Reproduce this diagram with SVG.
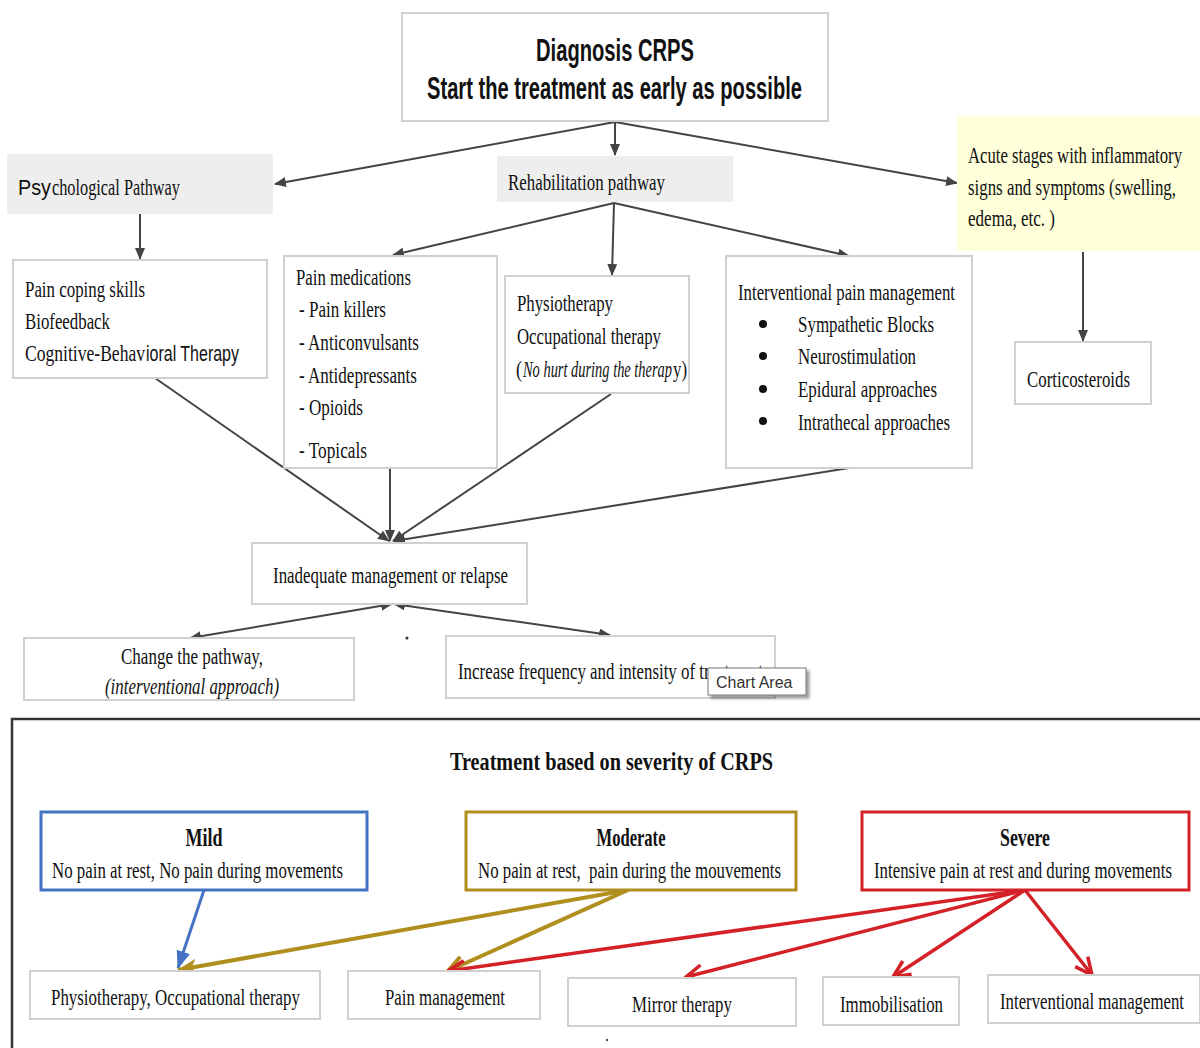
<svg xmlns="http://www.w3.org/2000/svg" width="1200" height="1048" viewBox="0 0 1200 1048">
<defs>
<style>
.bx{fill:#fff;stroke:#d0d0d0;stroke-width:2}
.gr{fill:#eeeeee;stroke:none}
.t{font-family:"Liberation Serif","Times New Roman",serif;font-size:24px;fill:#111}
.ta{font-family:"Liberation Sans",Arial,sans-serif;font-size:22px;fill:#111}
.ts{font-family:"Liberation Sans",Arial,sans-serif;font-weight:bold;font-size:31px;fill:#111}
.tb{font-family:"Liberation Serif","Times New Roman",serif;font-size:25px;font-weight:bold;fill:#111}
.c{fill:none;stroke:#444;stroke-width:2}
.cb{fill:none;stroke:#4472c4;stroke-width:3}
.co{fill:none;stroke:#b08f1e;stroke-width:4}
.cr{fill:none;stroke:#d42027;stroke-width:3.5}
</style>
<marker id="ah" markerUnits="userSpaceOnUse" markerWidth="12" markerHeight="10" refX="11" refY="5" orient="auto"><path d="M0,0 L12,5 L0,10 z" fill="#444"/></marker>
<marker id="ahs" markerUnits="userSpaceOnUse" markerWidth="12" markerHeight="10" refX="11" refY="5" orient="auto-start-reverse"><path d="M0,0 L12,5 L0,10 z" fill="#444"/></marker>
<marker id="ab" markerUnits="userSpaceOnUse" markerWidth="18" markerHeight="14" refX="17" refY="7" orient="auto"><path d="M0,0 L18,7 L0,14 z" fill="#4472c4"/></marker>
<marker id="aof" markerUnits="userSpaceOnUse" markerWidth="20" markerHeight="16" refX="19" refY="8" orient="auto"><path d="M0,0 L20,8 L0,16 L5,8 z" fill="#b08f1e"/></marker>
<marker id="aov" markerUnits="userSpaceOnUse" markerWidth="22" markerHeight="20" refX="19" refY="10" orient="auto"><path d="M2,2 L19,10 L2,18" fill="none" stroke="#b08f1e" stroke-width="4"/></marker>
<marker id="arv" markerUnits="userSpaceOnUse" markerWidth="22" markerHeight="20" refX="19" refY="10" orient="auto"><path d="M2,2 L19,10 L2,18" fill="none" stroke="#d42027" stroke-width="3.5"/></marker>
<filter id="sh" x="-10%" y="-10%" width="130%" height="150%"><feDropShadow dx="3" dy="3" stdDeviation="1.5" flood-color="#000" flood-opacity="0.4"/></filter>
</defs>
<rect width="1200" height="1048" fill="#fff"/>

<g id="connectors">
<line class="c" x1="615" y1="122" x2="275" y2="184" marker-end="url(#ah)"/>
<line class="c" x1="615" y1="122" x2="615" y2="155" marker-end="url(#ah)"/>
<line class="c" x1="615" y1="122" x2="957" y2="183" marker-end="url(#ah)"/>
<line class="c" x1="140" y1="214" x2="140" y2="259" marker-end="url(#ah)"/>
<line class="c" x1="614" y1="203" x2="393" y2="255" marker-end="url(#ah)"/>
<line class="c" x1="614" y1="203" x2="612" y2="275" marker-end="url(#ah)"/>
<line class="c" x1="614" y1="203" x2="849" y2="256" marker-end="url(#ah)"/>
<line class="c" x1="1083" y1="252" x2="1083" y2="341" marker-end="url(#ah)"/>
<line class="c" x1="155" y1="378" x2="389" y2="541" marker-end="url(#ah)"/>
<line class="c" x1="390" y1="468" x2="390" y2="541" marker-end="url(#ah)"/>
<line class="c" x1="611" y1="394" x2="393" y2="541" marker-end="url(#ah)"/>
<line class="c" x1="849" y1="468" x2="394" y2="541" marker-end="url(#ah)"/>
<line class="c" x1="392" y1="604" x2="190" y2="638" marker-start="url(#ahs)" marker-end="url(#ah)"/>
<line class="c" x1="394" y1="604" x2="610" y2="635" marker-start="url(#ahs)" marker-end="url(#ah)"/>
<line class="cb" x1="204" y1="890" x2="178" y2="968" marker-end="url(#ab)"/>
<line class="co" x1="628" y1="890" x2="178" y2="970" marker-end="url(#aof)"/>
<line class="co" x1="628" y1="890" x2="448" y2="971" marker-end="url(#aov)"/>
<line class="cr" x1="1025" y1="890" x2="448" y2="971" marker-end="url(#arv)"/>
<line class="cr" x1="1025" y1="890" x2="686" y2="977" marker-end="url(#arv)"/>
<line class="cr" x1="1025" y1="890" x2="893" y2="977" marker-end="url(#arv)"/>
<line class="cr" x1="1025" y1="890" x2="1092" y2="975" marker-end="url(#arv)"/>
</g>

<g id="n-diagnosis">
<rect class="bx" x="402" y="13" width="426" height="108"/>
<text class="ts" x="615" y="61" text-anchor="middle" textLength="158" lengthAdjust="spacingAndGlyphs">Diagnosis CRPS</text>
<text class="ts" x="427" y="99" textLength="375" lengthAdjust="spacingAndGlyphs">Start the treatment as early as possible</text>
</g>
<g id="n-psych">
<rect class="gr" x="7" y="154" width="266" height="60"/>
<text class="ta" x="18" y="195" textLength="33" lengthAdjust="spacingAndGlyphs">Psy</text>
<text class="t" x="52" y="195" textLength="128" lengthAdjust="spacingAndGlyphs">chological Pathway</text>
</g>
<g id="n-rehab">
<rect class="gr" x="497" y="156" width="236" height="46"/>
<text class="t" x="508" y="190" textLength="157" lengthAdjust="spacingAndGlyphs">Rehabilitation pathway</text>
</g>
<g id="n-acute">
<rect x="957" y="116" width="243" height="135" fill="#ffffd9"/>
<text class="t" x="968" y="163" textLength="214" lengthAdjust="spacingAndGlyphs">Acute stages with inflammatory</text>
<text class="t" x="968" y="195" textLength="208" lengthAdjust="spacingAndGlyphs">signs and symptoms (swelling,</text>
<text class="t" x="968" y="226" textLength="87" lengthAdjust="spacingAndGlyphs">edema, etc. )</text>
</g>
<g id="n-coping">
<rect class="bx" x="13" y="260" width="254" height="118"/>
<text class="t" x="25" y="297" textLength="120" lengthAdjust="spacingAndGlyphs">Pain coping skills</text>
<text class="t" x="25" y="329" textLength="85" lengthAdjust="spacingAndGlyphs">Biofeedback</text>
<text class="t" x="25" y="361" textLength="120" lengthAdjust="spacingAndGlyphs">Cognitive-Behav</text>
<text class="ta" x="146" y="361" textLength="93" lengthAdjust="spacingAndGlyphs">ioral Therapy</text>
</g>
<g id="n-meds">
<rect class="bx" x="284" y="256" width="213" height="212"/>
<text class="t" x="296" y="285" textLength="115" lengthAdjust="spacingAndGlyphs">Pain medications</text>
<text class="t" x="299" y="317" textLength="87" lengthAdjust="spacingAndGlyphs">- Pain killers</text>
<text class="t" x="299" y="350" textLength="120" lengthAdjust="spacingAndGlyphs">- Anticonvulsants</text>
<text class="t" x="299" y="383" textLength="118" lengthAdjust="spacingAndGlyphs">- Antidepressants</text>
<text class="t" x="299" y="415" textLength="64" lengthAdjust="spacingAndGlyphs">- Opioids</text>
<text class="t" x="299" y="458" textLength="68" lengthAdjust="spacingAndGlyphs">- Topicals</text>
</g>
<g id="n-physio">
<rect class="bx" x="505" y="276" width="184" height="117"/>
<text class="t" x="517" y="311" textLength="96" lengthAdjust="spacingAndGlyphs">Physiotherapy</text>
<text class="t" x="517" y="344" textLength="144" lengthAdjust="spacingAndGlyphs">Occupational therapy</text>
<text class="t" x="516" y="377" textLength="6" lengthAdjust="spacingAndGlyphs">(</text>
<text class="t" x="523" y="377" font-style="italic" textLength="149" lengthAdjust="spacingAndGlyphs">No hurt during the therap</text>
<text class="t" x="673" y="377" textLength="14" lengthAdjust="spacingAndGlyphs">y)</text>
</g>
<g id="n-interv">
<rect class="bx" x="726" y="256" width="246" height="212"/>
<text class="t" x="738" y="300" textLength="217" lengthAdjust="spacingAndGlyphs">Interventional pain management</text>
<circle cx="763" cy="324" r="4" fill="#111"/>
<circle cx="763" cy="356" r="4" fill="#111"/>
<circle cx="763" cy="389" r="4" fill="#111"/>
<circle cx="763" cy="421" r="4" fill="#111"/>
<text class="t" x="798" y="332" textLength="136" lengthAdjust="spacingAndGlyphs">Sympathetic Blocks</text>
<text class="t" x="798" y="364" textLength="118" lengthAdjust="spacingAndGlyphs">Neurostimulation</text>
<text class="t" x="798" y="397" textLength="139" lengthAdjust="spacingAndGlyphs">Epidural approaches</text>
<text class="t" x="798" y="430" textLength="152" lengthAdjust="spacingAndGlyphs">Intrathecal approaches</text>
</g>
<g id="n-cortico">
<rect class="bx" x="1015" y="342" width="136" height="62"/>
<text class="t" x="1027" y="387" textLength="103" lengthAdjust="spacingAndGlyphs">Corticosteroids</text>
</g>
<g id="n-inadequate">
<rect class="bx" x="252" y="543" width="275" height="61"/>
<text class="t" x="273" y="583" textLength="235" lengthAdjust="spacingAndGlyphs">Inadequate management or relapse</text>
</g>
<g id="n-change">
<rect class="bx" x="24" y="638" width="330" height="62"/>
<text class="t" x="121" y="664" textLength="142" lengthAdjust="spacingAndGlyphs">Change the pathway,</text>
<text class="t" x="105" y="694" font-style="italic" textLength="174" lengthAdjust="spacingAndGlyphs">(interventional approach)</text>
</g>
<g id="n-increase">
<rect class="bx" x="446" y="636" width="329" height="62"/>
<text class="t" x="458" y="679" textLength="305" lengthAdjust="spacingAndGlyphs">Increase frequency and intensity of treatment</text>
</g>
<circle cx="407" cy="638" r="1.5" fill="#333"/>
<g id="tooltip">
<rect x="708" y="668" width="98" height="27" fill="#fff" stroke="#777" stroke-width="1" filter="url(#sh)"/>
<text x="716" y="688" font-family="'Liberation Sans',Arial,sans-serif" font-size="16" fill="#333">Chart Area</text>
</g>

<g id="severity-frame">
<path d="M12,1048 L12,719 L1200,719" fill="none" stroke="#333" stroke-width="2.5"/>
<text class="tb" x="450" y="770" font-size="29" textLength="323" lengthAdjust="spacingAndGlyphs">Treatment based on severity of CRPS</text>
</g>
<g id="n-mild">
<rect x="41" y="812" width="326" height="78" fill="#fff" stroke="#4472c4" stroke-width="3"/>
<text class="tb" x="204" y="846" text-anchor="middle" textLength="37" lengthAdjust="spacingAndGlyphs">Mild</text>
<text class="t" x="52" y="878" textLength="291" lengthAdjust="spacingAndGlyphs">No pain at rest, No pain during movements</text>
</g>
<g id="n-moderate">
<rect x="466" y="812" width="330" height="78" fill="#fff" stroke="#b08f1e" stroke-width="3"/>
<text class="tb" x="631" y="846" text-anchor="middle" textLength="69" lengthAdjust="spacingAndGlyphs">Moderate</text>
<text class="t" x="478" y="878" textLength="303" lengthAdjust="spacingAndGlyphs" xml:space="preserve">No pain at rest,  pain during the mouvements</text>
</g>
<g id="n-severe">
<rect x="862" y="812" width="327" height="78" fill="#fff" stroke="#d42027" stroke-width="3"/>
<text class="tb" x="1025" y="846" text-anchor="middle" textLength="50" lengthAdjust="spacingAndGlyphs">Severe</text>
<text class="t" x="874" y="878" textLength="298" lengthAdjust="spacingAndGlyphs">Intensive pain at rest and during movements</text>
</g>
<g id="n-physio2">
<rect class="bx" x="30" y="971" width="290" height="48"/>
<text class="t" x="51" y="1005" textLength="249" lengthAdjust="spacingAndGlyphs">Physiotherapy, Occupational therapy</text>
</g>
<g id="n-painmgmt">
<rect class="bx" x="348" y="971" width="192" height="48"/>
<text class="t" x="385" y="1005" textLength="120" lengthAdjust="spacingAndGlyphs">Pain management</text>
</g>
<g id="n-mirror">
<rect class="bx" x="568" y="978" width="228" height="48"/>
<text class="t" x="632" y="1012" textLength="100" lengthAdjust="spacingAndGlyphs">Mirror therapy</text>
</g>
<g id="n-immob">
<rect class="bx" x="823" y="977" width="136" height="48"/>
<text class="t" x="840" y="1012" textLength="103" lengthAdjust="spacingAndGlyphs">Immobilisation</text>
</g>
<g id="n-intmgmt">
<rect class="bx" x="988" y="975" width="212" height="48"/>
<text class="t" x="1000" y="1009" textLength="184" lengthAdjust="spacingAndGlyphs">Interventional management</text>
</g>
<circle cx="607" cy="1040" r="1.2" fill="#555"/>
</svg>
